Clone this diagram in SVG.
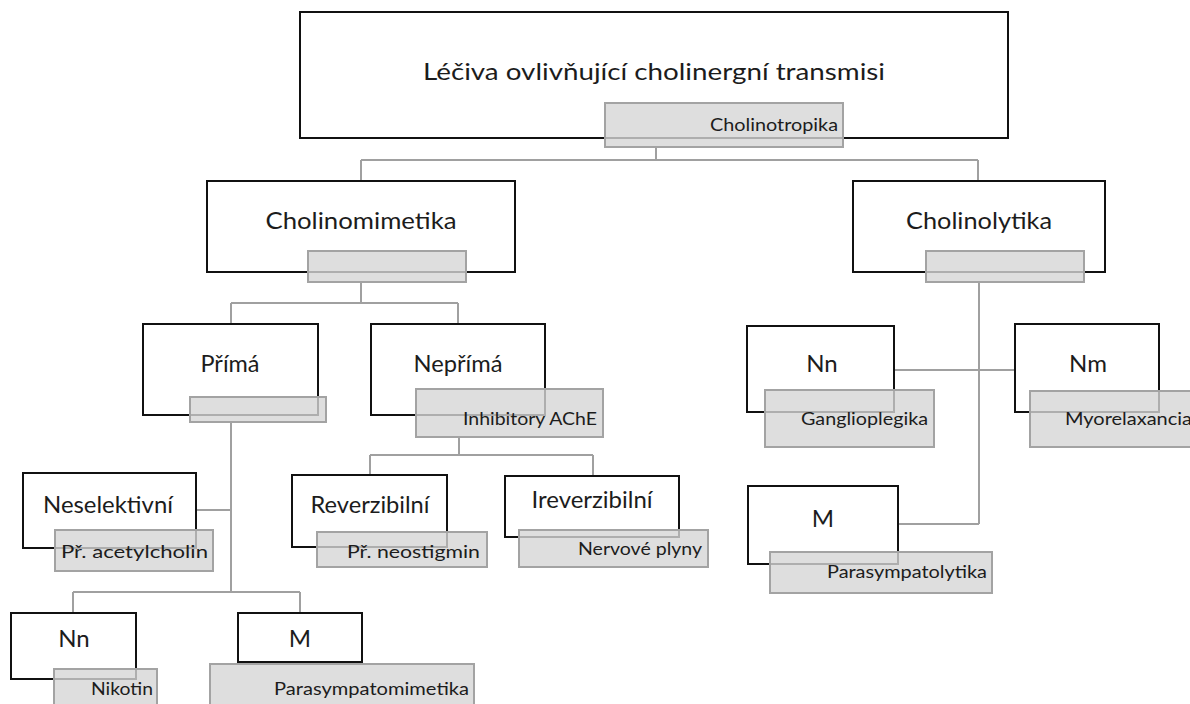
<svg xmlns="http://www.w3.org/2000/svg" width="1190" height="704" viewBox="0 0 1190 704">
<style>
.box{fill:#ffffff;stroke:#111111;stroke-width:2}
.tag{fill:#d6d6d6;fill-opacity:0.8;stroke:#a3a3a3;stroke-width:2}
.conn{fill:none;stroke:#a0a0a0;stroke-width:2}
.t{font-family:Lato,"Open Sans",sans-serif;fill:#1c1c1c;font-size:24px;text-anchor:middle}
.s{font-family:Lato,"Open Sans",sans-serif;fill:#1c1c1c;font-size:18px;text-anchor:end}
</style>
<rect width="1190" height="704" fill="#ffffff"/>
<g id="connectors" class="conn">
<path d="M656,147V160M361,160H978M361,160V181M978,160V181"/>
<path d="M361,282V303M231,303H458M231,303V324M458,303V324"/>
<path d="M231,422V592M196,510H231M73,592H300M73,592V613M300,592V613"/>
<path d="M459,437V455M370,455H593M370,455V475M593,455V476"/>
<path d="M979,282V524M894,370H1015M898,524H979"/>
</g>
<g id="root">
<rect class="box" x="300" y="12" width="708" height="126"/>
<text class="t" x="654" y="80" font-size="25" textLength="462" lengthAdjust="spacingAndGlyphs">Léčiva ovlivňující cholinergní transmisi</text>
<rect class="tag" x="605" y="103" width="238" height="44"/>
<text class="s" x="838" y="131" textLength="128" lengthAdjust="spacingAndGlyphs">Cholinotropika</text>
</g>
<g id="cholinomimetika">
<rect class="box" x="207" y="181" width="308" height="91"/>
<text class="t" x="361" y="229" textLength="191" lengthAdjust="spacingAndGlyphs">Cholinomimetika</text>
<rect class="tag" x="308" y="251" width="158" height="31"/>
</g>
<g id="cholinolytika">
<rect class="box" x="853" y="181" width="252" height="91"/>
<text class="t" x="979" y="229" textLength="146" lengthAdjust="spacingAndGlyphs">Cholinolytika</text>
<rect class="tag" x="926" y="251" width="158" height="31"/>
</g>
<g id="prima">
<rect class="box" x="143" y="324" width="175" height="91"/>
<text class="t" x="230" y="372" textLength="59" lengthAdjust="spacingAndGlyphs">Přímá</text>
<rect class="tag" x="190" y="397" width="136" height="25"/>
</g>
<g id="neprima">
<rect class="box" x="371" y="324" width="174" height="91"/>
<text class="t" x="458" y="372" textLength="89" lengthAdjust="spacingAndGlyphs">Nepřímá</text>
<rect class="tag" x="416" y="389" width="187" height="48"/>
<text class="s" x="597" y="425" textLength="134" lengthAdjust="spacingAndGlyphs">Inhibitory AChE</text>
</g>
<g id="neselektivni">
<rect class="box" x="23" y="473" width="173" height="75"/>
<text class="t" x="108" y="513" textLength="130" lengthAdjust="spacingAndGlyphs">Neselektivní</text>
<rect class="tag" x="55" y="530" width="158" height="41"/>
<text class="s" x="208" y="558" font-size="20" textLength="147" lengthAdjust="spacingAndGlyphs">Př. acetylcholin</text>
</g>
<g id="reverzibilni">
<rect class="box" x="292" y="475" width="155" height="72"/>
<text class="t" x="370" y="513" textLength="119" lengthAdjust="spacingAndGlyphs">Reverzibilní</text>
<rect class="tag" x="317" y="532" width="170" height="35"/>
<text class="s" x="480" y="558" textLength="133" lengthAdjust="spacingAndGlyphs">Př. neostigmin</text>
</g>
<g id="ireverzibilni">
<rect class="box" x="505" y="476" width="174" height="61"/>
<text class="t" x="592" y="508" textLength="121" lengthAdjust="spacingAndGlyphs">Ireverzibilní</text>
<rect class="tag" x="519" y="530" width="189" height="37"/>
<text class="s" x="702" y="555" textLength="124" lengthAdjust="spacingAndGlyphs">Nervové plyny</text>
</g>
<g id="nn-left">
<rect class="box" x="11" y="613" width="125" height="66"/>
<text class="t" x="74" y="647">Nn</text>
<rect class="tag" x="54" y="669" width="103" height="45"/>
<text class="s" x="153" y="695" textLength="62" lengthAdjust="spacingAndGlyphs">Nikotin</text>
</g>
<g id="m-left">
<rect class="box" x="238" y="613" width="124" height="49"/>
<text class="t" x="300" y="647">M</text>
<rect class="tag" x="210" y="664" width="264" height="50"/>
<text class="s" x="469" y="695" textLength="195" lengthAdjust="spacingAndGlyphs">Parasympatomimetika</text>
</g>
<g id="nn-right">
<rect class="box" x="747" y="326" width="147" height="86"/>
<text class="t" x="822" y="372">Nn</text>
<rect class="tag" x="765" y="390" width="169" height="57"/>
<text class="s" x="928" y="425" textLength="127" lengthAdjust="spacingAndGlyphs">Ganglioplegika</text>
</g>
<g id="nm-right">
<rect class="box" x="1015" y="324" width="144" height="88"/>
<text class="t" x="1088" y="372">Nm</text>
<rect class="tag" x="1030" y="391" width="180" height="56"/>
<text class="s" x="1192" y="425" textLength="127" lengthAdjust="spacingAndGlyphs">Myorelaxancia</text>
</g>
<g id="m-right">
<rect class="box" x="748" y="486" width="150" height="78"/>
<text class="t" x="823" y="527">M</text>
<rect class="tag" x="770" y="552" width="222" height="41"/>
<text class="s" x="987" y="578" textLength="160" lengthAdjust="spacingAndGlyphs">Parasympatolytika</text>
</g>
</svg>
